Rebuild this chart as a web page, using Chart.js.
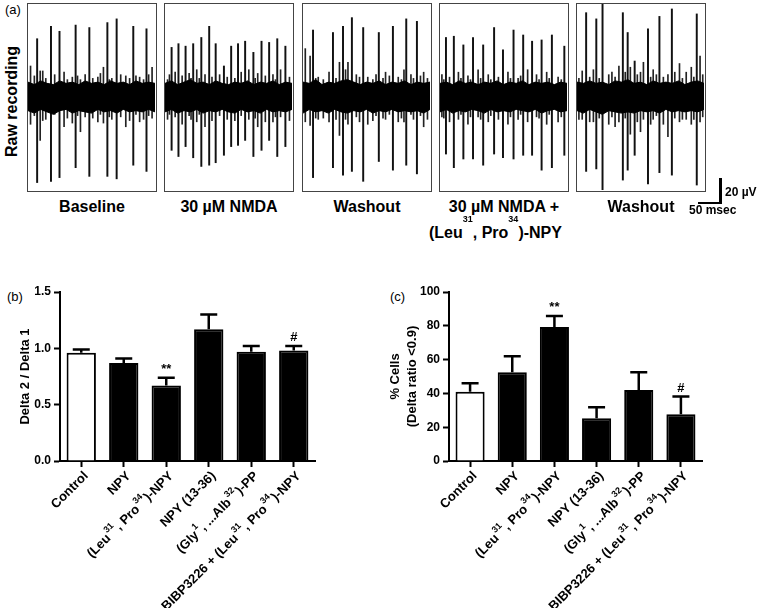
<!DOCTYPE html>
<html>
<head>
<meta charset="utf-8">
<script src="https://cdn.jsdelivr.net/npm/chart.js@4.4.1/dist/chart.umd.min.js"></script>
<style>
  body { margin: 0; background: #fff; font-family: "Liberation Sans", Arial, sans-serif; }
  #page { position: relative; width: 760px; height: 608px; overflow: hidden; }
  .box { position: absolute; top: 3px; width: 130px; height: 189px; box-sizing: border-box; border: 1.5px solid #444; }
  .box canvas { position: absolute; left: 0; top: 0; }
  .lbl { position: absolute; font-weight: bold; font-size: 16px; line-height: 16px; text-align: center; white-space: nowrap; }
  .sup { font-size: 9px; position: relative; top: -16px; }
  .tag { position: absolute; font-size: 13px; line-height: 13px; }
  .bar { position: absolute; background: #000; }
</style>
</head>
<body>
<div id="page">
  <div class="tag" style="left:5px; top:3px;">(a)</div>
  <div class="lbl" style="left:-43px; top:94px; width:110px; transform:rotate(-90deg);">Raw recording</div>

  <div class="box" style="left:27px;"><canvas id="tr0" width="127" height="186"></canvas></div>
  <div class="box" style="left:164px;"><canvas id="tr1" width="127" height="186"></canvas></div>
  <div class="box" style="left:302px;"><canvas id="tr2" width="127" height="186"></canvas></div>
  <div class="box" style="left:439px;"><canvas id="tr3" width="127" height="186"></canvas></div>
  <div class="box" style="left:576px;"><canvas id="tr4" width="127" height="186"></canvas></div>

  <div class="lbl" style="left:27px; top:199px; width:130px;">Baseline</div>
  <div class="lbl" style="left:164px; top:199px; width:130px;">30 µM NMDA</div>
  <div class="lbl" style="left:302px; top:199px; width:130px;">Washout</div>
  <div class="lbl" style="left:439px; top:199px; width:130px;">30 µM NMDA +</div>
  <div class="lbl" style="left:429px; top:225px; width:130px;">(Leu<span class="sup">31</span>, Pro<span class="sup">34</span>)-NPY</div>
  <div class="lbl" style="left:576px; top:199px; width:130px;">Washout</div>

  <div class="bar" style="left:719px; top:178px; width:2.5px; height:26px;"></div>
  <div class="bar" style="left:698px; top:201.5px; width:23px; height:2.5px;"></div>
  <div class="lbl" style="left:725px; top:186px; font-size:12px; line-height:12px; text-align:left;">20 µV</div>
  <div class="lbl" style="left:689px; top:204px; font-size:12px; line-height:12px; text-align:left;">50 msec</div>

  <div class="tag" style="left:7px; top:290px;">(b)</div>
  <div class="tag" style="left:390px; top:290px;">(c)</div>
  <canvas id="chartB" width="330" height="328" style="position:absolute; left:0; top:280px;"></canvas>
  <canvas id="chartC" width="330" height="328" style="position:absolute; left:380px; top:280px;"></canvas>
</div>

<script>
// ---- panel (a): raw recordings, time 0-100 across each box, amplitude in µV ----
// spikes: [time, up, down]
const baselineSpikes = [[7.2,47,69],[18.1,57,68],[24.8,53,65],[37.5,58,57],[48.3,56,64],[62.5,60,64],[69.8,63,66],[82.9,57,55],[93.3,55,60]];
const nmdaSpikes = [[5.2,40,43],[10.6,43,48],[16.2,41,40],[22.2,43,49],[28.6,48,56],[34.8,57,55],[39.9,43,53],[46.4,25,47],[52.1,41,40],[57.5,43,39],[63.1,45,35],[69.6,36,48],[76,45,43],[82,44,35],[88.4,47,48],[94.8,41,40]];
const washout1Spikes = [[7.9,54,65],[23.6,52,57],[31.5,57,63],[38.5,64,60],[47.4,56,68],[59.7,52,52],[70.8,57,59],[81.3,63,55],[89.7,61,62]];
const nmdaLeuSpikes = [[4.7,48,46],[10.9,49,57],[18.4,42,50],[26,48,50],[34,42,55],[42.6,56,46],[49.6,38,49],[57.9,54,50],[65.5,50,47],[72.5,45,47],[80,46,59],[88.1,50,57],[97.9,41,47]];
const washout2Spikes = [[7.2,68,60],[15.2,63,58],[20.1,75,75],[36.1,68,67],[39.9,52,59],[45.4,29,47],[55.9,55,70],[64.9,65,61],[74.7,71,63],[94.3,67,71]];

const baselineSmall = [[2,25,22],[5,17,15],[9.6,21,35],[11.6,21,19],[14,15,18],[21,18,14],[28.4,20,24],[31,14,17],[34.9,16,21],[39,17,15],[41.3,14,28],[45,18,16],[51,15,17],[55,16,20],[57,19,14],[59.4,24,21],[64,14,16],[66,15,18],[73,18,16],[77,17,24],[80,15,19],[85,17,14],[87.9,16,20],[91,14,18],[95,18,15],[97.7,24,17]];
const nmdaSmall = [[2,14,18],[3.5,18,14],[8,20,16],[13.5,17,22],[19,19,15],[20.5,15,18],[25,22,20],[27,15,14],[31.5,18,24],[37,16,19],[43,18,15],[49,16,18],[55,15,19],[60,20,15],[66,22,18],[71,15,17],[73,19,24],[79,17,20],[85,18,20],[87,14,16],[91,22,16],[98,16,19]];
const washout1Small = [[1.8,39,20],[5.6,33,23],[10,15,17],[12,16,18],[16,14,17],[20.5,20,20],[26,15,18],[28.7,28,31],[33.5,22,18],[35.4,28,22],[42,18,16],[44.5,16,20],[51,16,22],[55,14,19],[57.5,18,15],[63,15,17],[65,20,18],[68,17,14],[75,16,20],[77.5,14,17],[79.5,22,20],[85,18,14],[87,15,18],[92.5,17,15],[95,20,24],[98,15,18]];
const nmdaLeuSmall = [[1.5,18,16],[3,14,17],[7.5,16,20],[14.5,20,18],[16.5,15,14],[22,17,22],[24,14,16],[30,22,16],[32,15,18],[38,18,20],[40,14,15],[46,16,18],[53.5,20,22],[55.5,15,16],[61.5,15,18],[63.5,17,14],[69,22,20],[76,18,16],[78,14,17],[84,20,22],[86,15,14],[93,16,20],[95.5,14,16]];
const washout2Small = [[1.5,15,18],[4.1,21,18],[10,16,20],[12.9,22,20],[17.5,15,17],[25,18,22],[27.5,20,16],[30,16,24],[33,25,20],[38,20,17],[42,24,30],[47.5,18,20],[50,20,28],[52.3,28,18],[58,16,22],[60,22,18],[62.5,18,15],[68,16,22],[71.6,18,32],[77,20,17],[80.7,27,20],[83,15,18],[86,20,18],[90,24,22],[92,16,18],[96.9,33,20],[99,18,16]];

// noise band edges [up, down] at bandTimes
const bandTimes = [0,5,10,15,20,25,30,35,40,45,50,55,60,65,70,75,80,85,90,95,100];
const baselineBand = [[12,11],[10,13],[13,10],[11,12],[10,14],[13,11],[11,10],[12,13],[10,11],[13,12],[11,13],[12,10],[10,12],[13,11],[11,13],[12,10],[10,12],[13,11],[11,12],[12,10],[11,12]];
const nmdaBand = [[11,12],[13,10],[10,13],[12,11],[14,12],[11,10],[12,13],[10,11],[13,12],[11,10],[10,12],[12,13],[11,10],[13,12],[10,11],[12,13],[11,10],[13,12],[10,11],[12,12],[11,10]];
const washout1Band = [[12,13],[11,10],[14,12],[10,11],[12,13],[11,10],[13,12],[14,13],[12,11],[10,12],[12,10],[11,13],[13,11],[10,12],[12,10],[11,12],[13,11],[10,12],[12,11],[11,13],[12,10]];
const nmdaLeuBand = [[11,12],[12,10],[10,13],[13,11],[11,12],[12,10],[10,11],[12,13],[11,10],[13,12],[10,11],[12,12],[11,10],[13,11],[10,12],[12,10],[11,13],[12,11],[10,10],[12,12],[11,11]];
const washout2Band = [[12,11],[11,13],[13,10],[11,12],[12,14],[10,11],[13,12],[12,13],[14,12],[11,13],[12,11],[10,12],[13,11],[11,13],[12,10],[11,12],[13,11],[10,12],[12,11],[13,12],[11,10]];

// ---- panels (b) and (c) ----  (^n marks a superscript)
const groups = ["Control", "NPY", "(Leu^31, Pro^34)-NPY", "NPY (13-36)", "(Gly^1, ...Alb^32)-PP", "BIBP3226 + (Leu^31, Pro^34)-NPY"];
const deltaRatio = [0.96, 0.87, 0.67, 1.17, 0.97, 0.98];
const deltaRatioErr = [0.03, 0.04, 0.07, 0.13, 0.05, 0.04];
const deltaMarks = ["", "", "**", "", "", "#"];
const pctCells = [41, 52.5, 79.3, 25.3, 42, 27.7];
const pctCellsErr = [5, 9.5, 6.5, 6.5, 10.5, 10.5];
const pctMarks = ["", "", "**", "", "", "#"];

const FONT = '"Liberation Sans", Arial, sans-serif';
Chart.defaults.font.family = FONT;
Chart.defaults.color = '#000';

function drawTrace(id, spikes, small, band) {
  new Chart(document.getElementById(id), {
    type: 'bar',
    data: {
      datasets: [
        { type: 'line', data: bandTimes.map((t, i) => ({ x: t, y: band[i][0] })), fill: '+1',
          backgroundColor: '#000', borderColor: '#000', borderWidth: 1, pointRadius: 0 },
        { type: 'line', data: bandTimes.map((t, i) => ({ x: t, y: -band[i][1] })), fill: false,
          borderColor: '#000', borderWidth: 1, pointRadius: 0 },
        { data: small.map(s => ({ x: s[0], y: [-s[2], s[1]] })), backgroundColor: '#222',
          barThickness: 1, grouped: false },
        { data: spikes.map(s => ({ x: s[0], y: [-s[2], s[1]] })), backgroundColor: '#111',
          barThickness: 1.3, grouped: false }
      ]
    },
    options: {
      responsive: false,
      animation: false,
      devicePixelRatio: 1,
      layout: { padding: 0 },
      plugins: { legend: { display: false }, tooltip: { enabled: false } },
      scales: {
        x: { type: 'linear', min: 0, max: 100, offset: false, display: false },
        y: { min: -75, max: 75, display: false }
      }
    }
  });
}

drawTrace('tr0', baselineSpikes, baselineSmall, baselineBand);
drawTrace('tr1', nmdaSpikes, nmdaSmall, nmdaBand);
drawTrace('tr2', washout1Spikes, washout1Small, washout1Band);
drawTrace('tr3', nmdaLeuSpikes, nmdaLeuSmall, nmdaLeuBand);
drawTrace('tr4', washout2Spikes, washout2Small, washout2Band);

// error bars (upper only) and significance marks
const errorBars = {
  id: 'errorBars',
  afterDatasetsDraw(chart, args, opts) {
    const ctx = chart.ctx;
    const meta = chart.getDatasetMeta(0);
    const values = chart.data.datasets[0].data;
    const yScale = chart.scales.y;
    ctx.save();
    ctx.strokeStyle = '#000';
    ctx.lineWidth = 2.5;
    meta.data.forEach((bar, i) => {
      const top = yScale.getPixelForValue(values[i] + opts.errors[i]);
      ctx.beginPath();
      ctx.moveTo(bar.x, bar.y);
      ctx.lineTo(bar.x, top);
      ctx.moveTo(bar.x - 8.5, top);
      ctx.lineTo(bar.x + 8.5, top);
      ctx.stroke();
      if (opts.marks[i]) {
        ctx.fillStyle = '#000';
        ctx.font = 'bold 13px ' + FONT;
        ctx.textAlign = 'center';
        ctx.textBaseline = 'bottom';
        ctx.fillText(opts.marks[i], bar.x, top - 2);
      }
    });
    ctx.restore();
  }
};

// slanted category labels with real superscripts
const slantLabels = {
  id: 'slantLabels',
  afterDraw(chart) {
    const ctx = chart.ctx;
    const xs = chart.scales.x;
    const mainFont = 'bold 13px ' + FONT;
    const supFont = 'bold 9px ' + FONT;
    chart.data.labels.forEach((label, i) => {
      const parts = label.split(/\^(\d+)/);
      ctx.save();
      ctx.fillStyle = '#000';
      ctx.translate(xs.getPixelForTick(i) + 5, xs.top + 13);
      ctx.rotate(-Math.PI / 4);
      ctx.textAlign = 'left';
      ctx.textBaseline = 'middle';
      let w = 0;
      parts.forEach((p, k) => {
        ctx.font = k % 2 ? supFont : mainFont;
        w += ctx.measureText(p).width + (k % 2 ? 2 : 0);
      });
      let x = -w;
      parts.forEach((p, k) => {
        ctx.font = k % 2 ? supFont : mainFont;
        if (k % 2) {
          ctx.fillText(p, x + 1, -6);
          x += ctx.measureText(p).width + 2;
        } else {
          ctx.fillText(p, x, 0);
          x += ctx.measureText(p).width;
        }
      });
      ctx.restore();
    });
  }
};

function barChart(id, values, errors, marks, yOpts, title, titlePad, yWidth, padRight) {
  new Chart(document.getElementById(id), {
    type: 'bar',
    data: {
      labels: groups,
      datasets: [{
        data: values,
        backgroundColor: values.map((v, i) => i === 0 ? '#fff' : '#000'),
        borderColor: '#000',
        borderWidth: 2,
        barPercentage: 0.69,
        categoryPercentage: 1
      }]
    },
    options: {
      responsive: false,
      animation: false,
      devicePixelRatio: 1,
      layout: { padding: { top: 12, right: padRight, left: 0, bottom: 0 } },
      plugins: { legend: { display: false }, tooltip: { enabled: false },
        errorBars: { errors: errors, marks: marks } },
      scales: {
        x: {
          grid: { display: true, offset: false, drawOnChartArea: false, tickLength: 6, tickColor: '#000', tickWidth: 2 },
          border: { display: true, color: '#000', width: 2 },
          ticks: { autoSkip: false, maxRotation: 0, color: 'rgba(0,0,0,0)', font: { size: 13, weight: 'bold' },
            callback: () => '' },
          afterFit: s => { s.height = 147; }
        },
        y: Object.assign({
          grid: { display: true, drawOnChartArea: false, tickLength: 6, tickColor: '#000', tickWidth: 2 },
          border: { display: true, color: '#000', width: 2 },
          title: { display: true, text: title, font: { size: 13, weight: 'bold', lineHeight: 1.3 },
            padding: { top: titlePad, bottom: 0 } },
          afterFit: s => { s.width = yWidth; }
        }, yOpts)
      }
    },
    plugins: [errorBars, slantLabels]
  });
}

barChart('chartB', deltaRatio, deltaRatioErr, deltaMarks,
  { min: 0, max: 1.5, ticks: { stepSize: 0.5, padding: 3, font: { size: 12, weight: 'bold' }, callback: v => v.toFixed(1) } },
  'Delta 2 / Delta 1', 17, 60, 15);

barChart('chartC', pctCells, pctCellsErr, pctMarks,
  { min: 0, max: 100, ticks: { stepSize: 20, padding: 3, font: { size: 12, weight: 'bold' } } },
  ['% Cells', '(Delta ratio <0.9)'], 7, 69, 8);
</script>
</body>
</html>
